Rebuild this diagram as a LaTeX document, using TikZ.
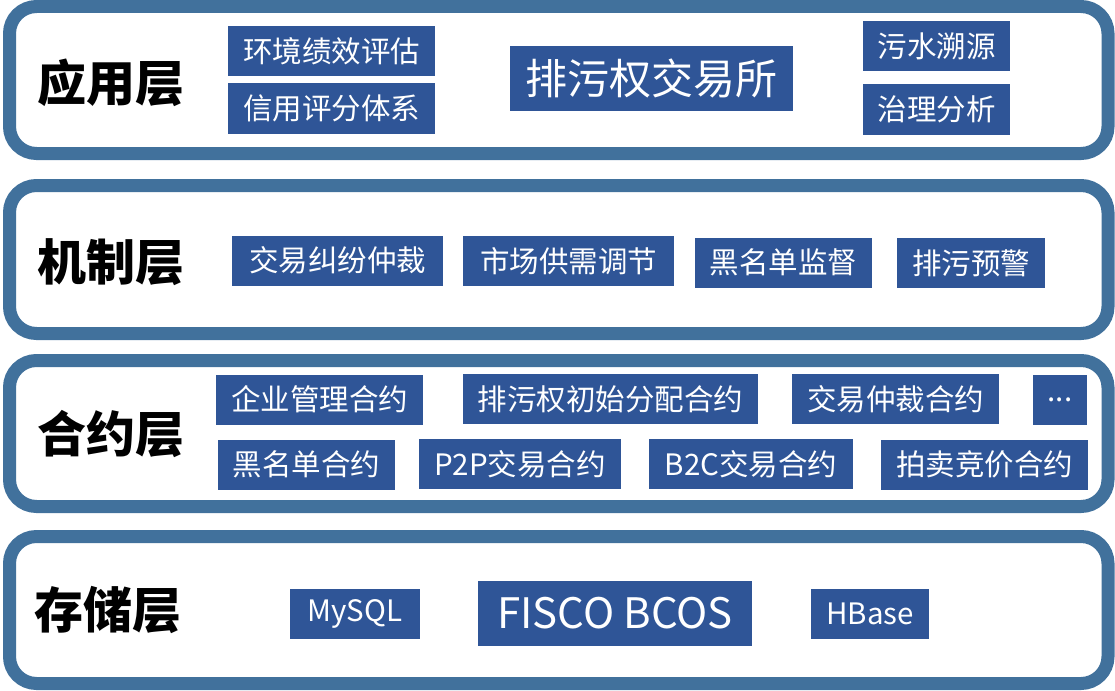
\documentclass[tikz,border=0pt]{standalone}
\usepackage{fontspec}
\setmainfont{Noto Sans CJK SC}
\usetikzlibrary{positioning}
\definecolor{framecol}{HTML}{41719C}
\definecolor{boxcol}{HTML}{2F5597}
\tikzset{
  frame/.style={draw=framecol, line width=13pt, rounded corners=27pt, fill=white},
  item/.style={fill=boxcol, text=white, inner sep=0pt, minimum height=50pt, font=\fontsize{29.5}{30}\selectfont},
  bigitem/.style={item, minimum height=65pt, font=\fontsize{42}{44}\selectfont},
  layer/.style={inner sep=0pt, font=\fontsize{49}{50}\selectfont\bfseries},
}

\begin{document}
\begin{tikzpicture}[x=1pt, y=-1pt]
    \useasboundingbox (0,0) rectangle (1115,690);
    \draw[frame] (9.5,6.5) rectangle (1108,153.5);
    \draw[frame] (9.5,185.5) rectangle (1108,333.5);
    \draw[frame] (9.5,360.5) rectangle (1108,506.5);
    \draw[frame] (9.5,536.5) rectangle (1108,683.5);

    \node[layer] (yyc) at (111,83) {应用层};
    \node[item, minimum width=207] (hjjx) at (331.5,51) {环境绩效评估};
    \node[item, minimum width=207] (xypf) at (331.5,108.5) {信用评分体系};
    \node[bigitem, minimum width=283] (pwjys) at (651.5,78.5) {排污权交易所};
    \node[item, minimum width=147] (wssy) at (936.5,46) {污水溯源};
    \node[item, minimum width=147] (zlfx) at (936.5,109.5) {治理分析};

    \node[layer] (jzc) at (111,262) {机制层};
    \node[item, minimum width=211] (jyjf) at (337.5,260.5) {交易纠纷仲裁};
    \node[item, minimum width=211] (scgx) at (568.5,261) {市场供需调节};
    \node[item, minimum width=177] (hmdjd) at (783.5,262.5) {黑名单监督};
    \node[item, minimum width=148] (pwyj) at (971,263) {排污预警};

    \node[layer] (hyc) at (111,434) {合约层};
    \node[item, minimum width=207] (qygl) at (319.5,399.5) {企业管理合约};
    \node[item, minimum width=295] (csfp) at (610.5,399) {排污权初始分配合约};
    \node[item, minimum width=207] (jyzc) at (895.5,399) {交易仲裁合约};
    \node[item, minimum width=54] (more) at (1060,399.5) {...};
    \node[item, minimum width=177] (hmdhy) at (306.5,464.5) {黑名单合约};
    \node[item, minimum width=202] (ptop) at (520,464) {P2P交易合约};
    \node[item, minimum width=204] (btoc) at (751,464) {B2C交易合约};
    \node[item, minimum width=207] (pmjj) at (984.5,464.5) {拍卖竞价合约};

    \node[layer] (ccc) at (108,610) {存储层};
    \node[item, minimum width=130] (mysql) at (355,613.5) {MySQL};
    \node[bigitem, minimum width=274] (fisco) at (615,613.5) {FISCO BCOS};
    \node[item, minimum width=118] (hbase) at (870,613.5) {HBase};
\end{tikzpicture}
\end{document}
